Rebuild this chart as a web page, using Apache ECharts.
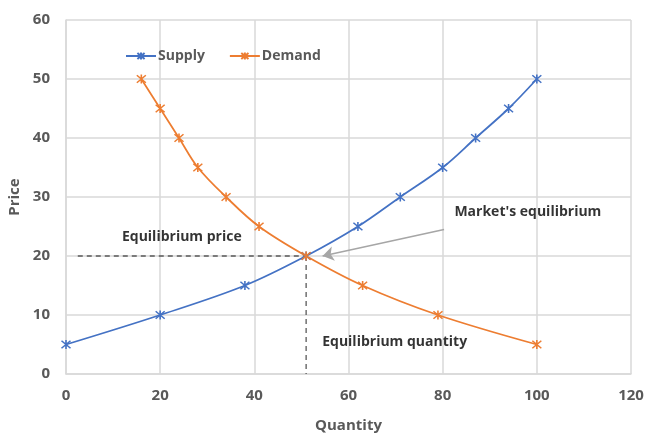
<!DOCTYPE html>
<html>
<head>
<meta charset="utf-8">
<script src="https://cdn.jsdelivr.net/npm/echarts@6/dist/echarts.min.js"></script>
<style>
  html, body { margin: 0; padding: 0; background: #ffffff; }
  #chart { width: 645px; height: 433px; }
</style>
</head>
<body>
<div id="chart"></div>
<script>
// Supply and demand schedules: [quantity, price]
const supplyPoints = [[0, 5], [20, 10], [38, 15], [51, 20], [62, 25], [71, 30], [80, 35], [87, 40], [94, 45], [100, 50]];
const demandPoints = [[16, 50], [20, 45], [24, 40], [28, 35], [34, 30], [41, 25], [51, 20], [63, 15], [79, 10], [100, 5]];

// Equilibrium guides and annotation anchors
const priceGuide = [[2.5, 20], [51, 20]];
const quantityGuide = [[51, 20], [51, 0]];
const arrowFrom = [80.3, 24.5];
const arrowTo = [54.5, 20];
const notes = [
  { text: 'Equilibrium price', at: [24.6, 23.2] },
  { text: "Market's equilibrium", at: [98.1, 27.5] },
  { text: 'Equilibrium quantity', at: [69.8, 5.4] }
];

const xTicks = { min: 0, max: 120, step: 20 };
const yTicks = { min: 0, max: 60, step: 10 };

const FONT = '"Open Sans", "Noto Sans", sans-serif';
const AXIS_TEXT = '#595959';
const GRID_LINE = '#d9d9d9';
const STAR = 'path://M0,0L10,10M10,0L0,10M5,-1L5,11';

const chart = echarts.init(document.getElementById('chart'), null, { renderer: 'canvas' });

function curve(name, data, color) {
  return {
    name: name,
    type: 'line',
    data: data,
    smooth: 0.35,
    symbol: STAR,
    symbolSize: 9,
    lineStyle: { color: color, width: 1.75 },
    itemStyle: { color: color, borderColor: color, borderWidth: 1.6 },
    z: 5
  };
}

function guide(data) {
  return {
    type: 'line',
    data: data,
    symbol: 'none',
    silent: true,
    lineStyle: { color: '#595959', width: 1.3, type: [5, 4] },
    z: 3
  };
}

chart.setOption({
  animation: false,
  backgroundColor: '#ffffff',
  grid: { left: 66, right: 14, top: 20, bottom: 59, containLabel: false, outerBoundsMode: 'none' },
  legend: {
    data: ['Supply', 'Demand'],
    left: 120,
    top: 44,
    itemGap: 24,
    itemWidth: 30,
    itemHeight: 9,
    textStyle: { fontFamily: FONT, fontWeight: 'bold', fontSize: 14, color: AXIS_TEXT, padding: [0, 0, 0, -3] }
  },
  xAxis: {
    type: 'value',
    min: xTicks.min, max: xTicks.max, interval: xTicks.step,
    name: 'Quantity',
    nameLocation: 'middle',
    nameGap: 44,
    nameTextStyle: { fontFamily: FONT, fontWeight: 'bold', fontSize: 15, color: AXIS_TEXT },
    axisLine: { show: true, lineStyle: { color: GRID_LINE, width: 1.5 } },
    axisTick: { show: false },
    axisLabel: { fontFamily: FONT, fontWeight: 'bold', fontSize: 15, color: AXIS_TEXT, margin: 14 },
    splitLine: { show: true, lineStyle: { color: GRID_LINE, width: 1.5 } }
  },
  yAxis: {
    type: 'value',
    min: yTicks.min, max: yTicks.max, interval: yTicks.step,
    name: 'Price',
    nameLocation: 'middle',
    nameGap: 40,
    nameTextStyle: { fontFamily: FONT, fontWeight: 'bold', fontSize: 15, color: AXIS_TEXT },
    axisLine: { show: true, lineStyle: { color: GRID_LINE, width: 1.5 } },
    axisTick: { show: false },
    axisLabel: { fontFamily: FONT, fontWeight: 'bold', fontSize: 15, color: AXIS_TEXT, margin: 16 },
    splitLine: { show: true, lineStyle: { color: GRID_LINE, width: 1.5 } }
  },
  series: [
    guide(priceGuide),
    guide(quantityGuide),
    curve('Supply', supplyPoints, '#4472C4'),
    curve('Demand', demandPoints, '#ED7D31'),
    {
      // arrow pointing at the equilibrium point
      type: 'line',
      data: [],
      silent: true,
      markLine: {
        silent: true,
        symbol: ['none', 'arrow'],
        symbolSize: 11,
        label: { show: false },
        lineStyle: { color: '#a6a6a6', width: 1.6, type: 'solid' },
        itemStyle: { color: '#a6a6a6' },
        data: [[{ coord: arrowFrom }, { coord: arrowTo }]]
      },
      z: 4
    },
    {
      // text annotations
      type: 'scatter',
      silent: true,
      symbolSize: 0,
      data: notes.map(n => ({ value: n.at, label: { formatter: n.text } })),
      label: {
        show: true,
        position: 'inside',
        fontFamily: FONT,
        fontWeight: 'bold',
        fontSize: 14,
        color: '#000000'
      },
      z: 6
    }
  ]
});
</script>
</body>
</html>
